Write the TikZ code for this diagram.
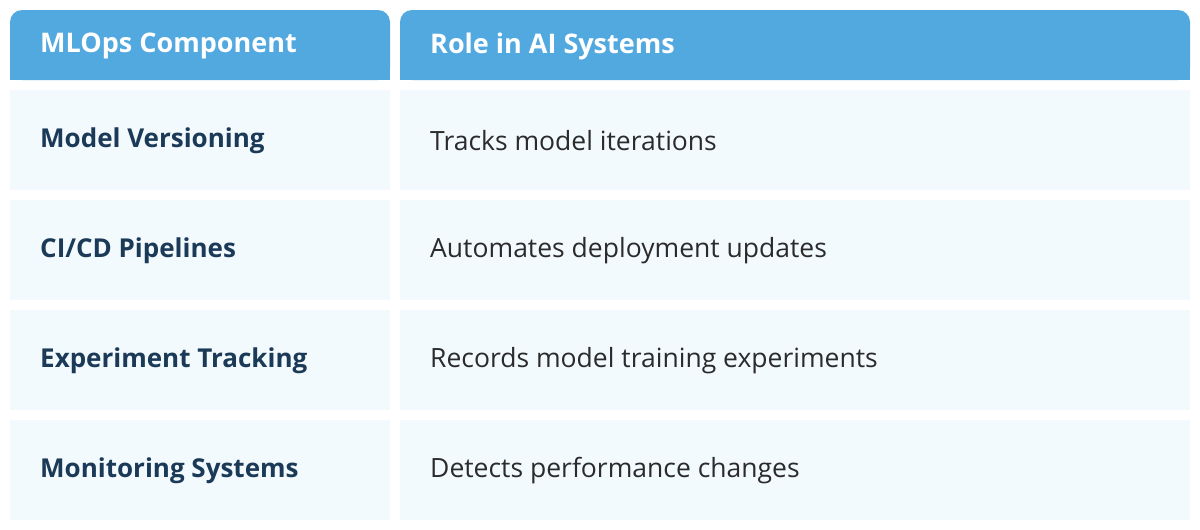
\documentclass[tikz,border=0pt]{standalone}
\usepackage{fontspec}
\setmainfont{Open Sans}
\definecolor{hdr}{HTML}{52A9E0}
\definecolor{cellbg}{HTML}{F3FAFE}
\definecolor{navy}{HTML}{1B3A57}
\definecolor{body}{HTML}{2B2B2B}
\begin{document}
\begin{tikzpicture}[x=1pt,y=-1pt,
  head/.style={fill=hdr,rounded corners=12pt},
  cell/.style={fill=cellbg},
  htext/.style={anchor=west,inner sep=0pt,text=white,font=\fontsize{27}{31}\selectfont\bfseries},
  ltext/.style={anchor=west,inner sep=0pt,text=navy,font=\fontsize{26}{30}\selectfont\bfseries},
  rtext/.style={anchor=west,inner sep=0pt,text=body,font=\fontsize{26.5}{30}\selectfont}]
\useasboundingbox (0,0) rectangle (1200,530);
\fill[white] (0,0) rectangle (1200,530);
\fill[head] (10,80) -- (10,10) -- (390,10) -- (390,80) -- cycle;
\fill[hdr] (10,50) rectangle (390,80);
\fill[head] (400,80) -- (400,10) -- (1190,10) -- (1190,80) -- cycle;
\fill[hdr] (400,50) rectangle (1190,80);
\node[htext] (h1) at (40,46) {MLOps Component};
\node[htext] (h2) at (430,46) {Role in AI Systems};
\foreach \i/\a/\b in {0/{Model Versioning}/{Tracks model iterations},
  1/{CI/CD Pipelines}/{Automates deployment updates},
  2/{Experiment Tracking}/{Records model training experiments},
  3/{Monitoring Systems}/{Detects performance changes}}{
  \pgfmathsetmacro\top{90+110*\i}
  \fill[cell] (10,\top) rectangle (390,\top+100);
  \fill[cell] (400,\top) rectangle (1190,\top+100);
  \node[ltext] (l\i) at (40,\top+51) {\a};
  \node[rtext] (r\i) at (430,\top+51) {\b};
}
\end{tikzpicture}
\end{document}
